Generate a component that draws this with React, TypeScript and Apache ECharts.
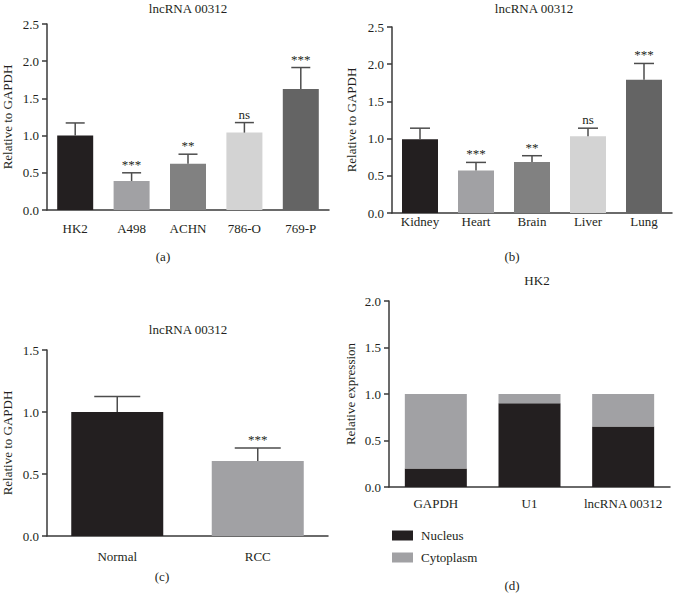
import React, { useEffect, useRef } from "react";
import * as echarts from "echarts";

const F = "'Liberation Serif', 'DejaVu Serif', serif";
const TXT = "#231f20";
const AX = "#3a3a3a";
const ERR = "#4d4d4d";

// Panel (a)
const catsA = ["HK2", "A498", "ACHN", "786-O", "769-P"];
const meanA = [1.0, 0.39, 0.62, 1.04, 1.625];
const sdA = [0.17, 0.11, 0.13, 0.135, 0.29];
const sigA = ["", "***", "**", "ns", "***"];

// Panel (b)
const catsB = ["Kidney", "Heart", "Brain", "Liver", "Lung"];
const meanB = [0.99, 0.57, 0.685, 1.03, 1.79];
const sdB = [0.15, 0.11, 0.085, 0.11, 0.22];
const sigB = ["", "***", "**", "ns", "***"];

// Panel (c)
const catsC = ["Normal", "RCC"];
const meanC = [1.0, 0.605];
const sdC = [0.125, 0.105];
const sigC = ["", "***"];

// Panel (d)
const catsD = ["GAPDH", "U1", "lncRNA 00312"];
const nucleusD = [0.2, 0.9, 0.65];
const cytoplasmD = [0.8, 0.1, 0.35];

const yTicksMaxA = 2.5;
const yTicksMaxB = 2.5;
const yTicksMaxC = 1.5;
const yTicksMaxD = 2.0;

const palette5 = ["#231f20", "#a1a1a4", "#818181", "#d3d3d3", "#646464"];

function xAx(gridIndex: number, data: string[], margin: number) {
  return {
    type: "category",
    gridIndex,
    data,
    axisLine: { lineStyle: { color: AX, width: 1.5 } },
    axisTick: { alignWithLabel: true, length: 6, lineStyle: { color: AX, width: 1.5 } },
    axisLabel: { interval: 0, margin, color: TXT, fontSize: 13, fontFamily: F },
  };
}

function yAx(gridIndex: number, max: number, name: string, nameGap: number) {
  return {
    type: "value",
    gridIndex,
    min: 0,
    max,
    interval: 0.5,
    name,
    nameLocation: "middle",
    nameGap,
    nameTextStyle: { color: TXT, fontSize: 13, fontFamily: F },
    axisLine: { show: true, lineStyle: { color: AX, width: 1.5 } },
    axisTick: { show: true, length: 5, lineStyle: { color: AX, width: 1.5 } },
    axisLabel: {
      margin: 8,
      color: TXT,
      fontSize: 13,
      fontFamily: F,
      formatter: (v: number) => v.toFixed(1),
    },
    splitLine: { show: false },
  };
}

function barSeries(idx: number, means: number[], colors: string[], barWidth: number) {
  return {
    type: "bar",
    xAxisIndex: idx,
    yAxisIndex: idx,
    barWidth,
    data: means.map((m, i) => ({ value: m, itemStyle: { color: colors[i] } })),
  };
}

function errSeries(idx: number, means: number[], sds: number[], sigs: string[], cap: number) {
  return {
    type: "custom",
    xAxisIndex: idx,
    yAxisIndex: idx,
    z: 5,
    data: means.map((m, i) => [i, m, sds[i]]),
    renderItem: (params: any, api: any) => {
      const i = api.value(0);
      const m = api.value(1);
      const s = api.value(2);
      const p0 = api.coord([i, m]);
      const p1 = api.coord([i, m + s]);
      const x = p0[0];
      const children: any[] = [
        { type: "line", shape: { x1: x, y1: p0[1], x2: x, y2: p1[1] }, style: { stroke: ERR, lineWidth: 1.5 } },
        { type: "line", shape: { x1: x - cap / 2, y1: p1[1], x2: x + cap / 2, y2: p1[1] }, style: { stroke: ERR, lineWidth: 1.5 } },
      ];
      const t = sigs[params.dataIndex];
      if (t) {
        children.push({
          type: "text",
          x,
          y: p1[1] - 2,
          style: {
            text: t,
            align: "center",
            verticalAlign: "bottom",
            fontSize: 13,
            fontFamily: F,
            fill: TXT,
          },
        });
      }
      return { type: "group", children };
    },
  };
}

function label(x: number, y: number, text: string, size = 13) {
  return {
    type: "text",
    x,
    y,
    style: { text, align: "center", verticalAlign: "middle", fontSize: size, fontFamily: F, fill: TXT },
  };
}

export default function App() {
  const ref = useRef<HTMLDivElement>(null);
  useEffect(() => {
    if (!ref.current) return;
    const chart = echarts.init(ref.current, null, { renderer: "svg" });
    const option: any = {
      animation: false,
      backgroundColor: "#ffffff",
      grid: [
        { left: 47, top: 24, width: 282, height: 186 },
        { left: 392, top: 27, width: 280, height: 186 },
        { left: 47, top: 350, width: 281, height: 186 },
        { left: 389, top: 301, width: 281, height: 186 },
      ],
      xAxis: [xAx(0, catsA, 12), xAx(1, catsB, 2), xAx(2, catsC, 14), xAx(3, catsD, 10)],
      yAxis: [
        yAx(0, yTicksMaxA, "Relative to GAPDH", 33),
        yAx(1, yTicksMaxB, "Relative to GAPDH", 34),
        yAx(2, yTicksMaxC, "Relative to GAPDH", 33),
        yAx(3, yTicksMaxD, "Relative expression", 32),
      ],
      legend: {
        data: ["Nucleus", "Cytoplasm"],
        orient: "vertical",
        left: 392,
        top: 529,
        padding: 0,
        itemWidth: 21,
        itemHeight: 10,
        itemGap: 9,
        icon: "rect",
        textStyle: { color: TXT, fontSize: 13, fontFamily: F, padding: [0, 0, 0, 3] },
      },
      graphic: [
        label(188, 8, "lncRNA 00312"),
        label(534, 8, "lncRNA 00312"),
        label(188, 329, "lncRNA 00312"),
        label(537, 280, "HK2"),
        label(163, 256, "(a)"),
        label(512, 256, "(b)"),
        label(162, 576, "(c)"),
        label(512, 585, "(d)"),
      ],
      series: [
        barSeries(0, meanA, palette5, 36),
        errSeries(0, meanA, sdA, sigA, 19),
        barSeries(1, meanB, palette5, 36),
        errSeries(1, meanB, sdB, sigB, 20),
        barSeries(2, meanC, [palette5[0], palette5[1]], 92),
        errSeries(2, meanC, sdC, sigC, 46),
        {
          name: "Nucleus",
          type: "bar",
          xAxisIndex: 3,
          yAxisIndex: 3,
          stack: "d",
          barWidth: 62,
          itemStyle: { color: "#231f20" },
          data: nucleusD,
        },
        {
          name: "Cytoplasm",
          type: "bar",
          xAxisIndex: 3,
          yAxisIndex: 3,
          stack: "d",
          barWidth: 62,
          itemStyle: { color: "#a1a1a4" },
          data: cytoplasmD,
        },
      ],
    };
    chart.setOption(option);
    return () => chart.dispose();
  }, []);
  return (
    <div
      ref={ref}
      style={{ position: "absolute", left: 0, top: 0, width: 674, height: 603, background: "#fff" }}
    />
  );
}
